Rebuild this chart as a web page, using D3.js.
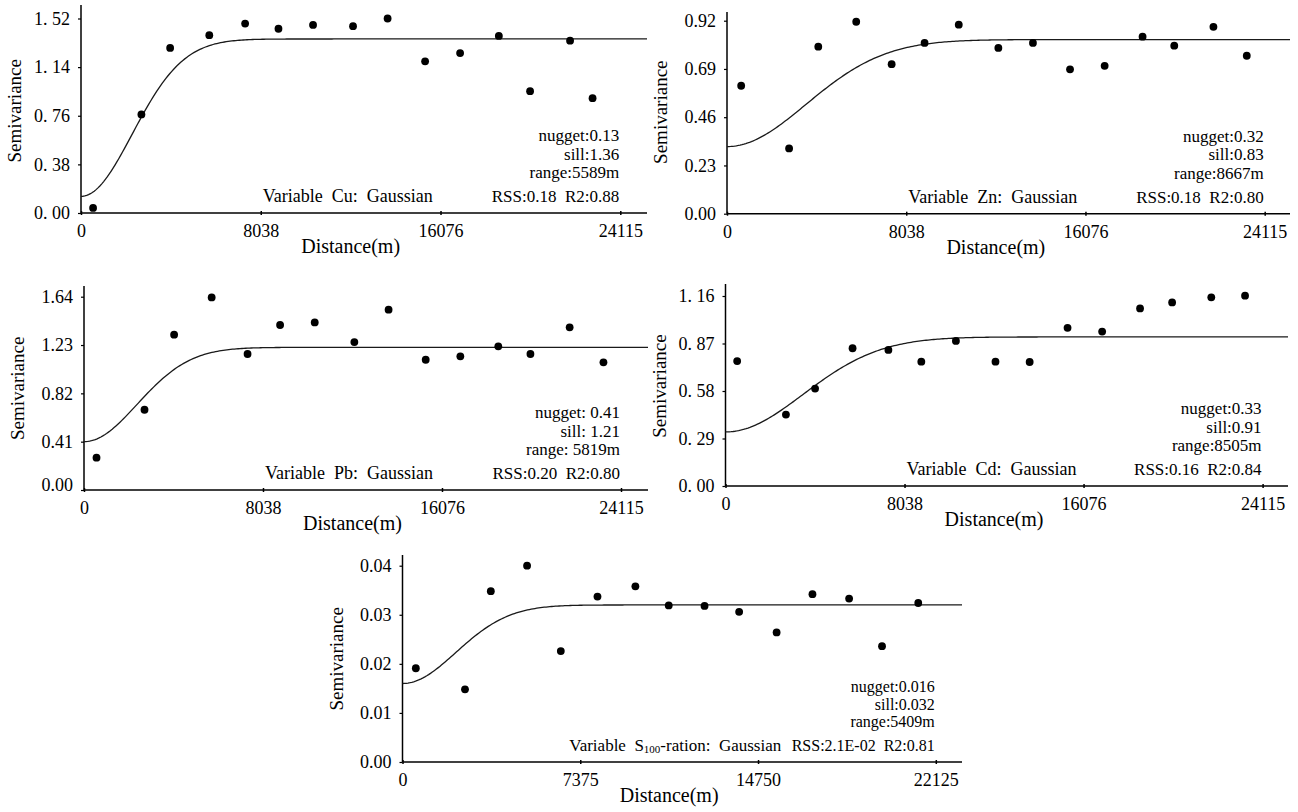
<!DOCTYPE html>
<html>
<head>
<meta charset="utf-8">
<script src="https://cdn.jsdelivr.net/npm/d3@7"></script>
<style>
  html, body { margin: 0; padding: 0; background: #fff; }
  svg { display: block; }
  svg text { font-family: "Liberation Serif", serif; fill: #000; }
</style>
</head>
<body>
<svg id="chart" width="1298" height="812" font-family="Liberation Serif, serif"></svg>
<script>
// distance ticks
const xTicksA = [0, 8038, 16076, 24115];
const xTicksB = [0, 7375, 14750, 22125];

// Cu
const cuDist = [540, 2701, 3986, 5737, 7339, 8830, 10376, 12164, 13710, 15387, 16952, 18684, 20081, 21869, 22875];
const cuGamma = [0.04, 0.77, 1.29, 1.39, 1.48, 1.44, 1.47, 1.46, 1.52, 1.185, 1.25, 1.384, 0.952, 1.347, 0.897];
const cuYTicks = [0, 0.38, 0.76, 1.14, 1.52];
const cuYLabels = ["0. 00", "0. 38", "0. 76", "1. 14", "1. 52"];

// Zn
const znDist = [636, 2785, 4094, 5795, 7384, 8861, 10394, 12170, 13721, 15385, 16937, 18638, 20059, 21816, 23311];
const znGamma = [0.61, 0.311, 0.796, 0.915, 0.713, 0.814, 0.901, 0.79, 0.814, 0.688, 0.705, 0.844, 0.801, 0.891, 0.753];
const znYTicks = [0, 0.23, 0.46, 0.69, 0.92];
const znYLabels = ["0.00", "0.23", "0.46", "0.69", "0.92"];

// Pb
const pbDist = [562, 2717, 4047, 5733, 7345, 8806, 10361, 12141, 13678, 15345, 16900, 18605, 20048, 21809, 23327];
const pbGamma = [0.274, 0.681, 1.318, 1.634, 1.154, 1.4, 1.422, 1.255, 1.53, 1.105, 1.134, 1.219, 1.154, 1.38, 1.083];
const pbYTicks = [0, 0.41, 0.82, 1.23, 1.64];
const pbYLabels = ["0.00", "0.41", "0.82", "1.23", "1.64"];

// Cd
const cdDist = [524, 2713, 4022, 5705, 7314, 8792, 10345, 12122, 13656, 15358, 16911, 18613, 20053, 21811, 23327];
const cdGamma = [0.763, 0.436, 0.595, 0.841, 0.831, 0.759, 0.886, 0.759, 0.757, 0.966, 0.943, 1.084, 1.121, 1.152, 1.162];
const cdYTicks = [0, 0.29, 0.58, 0.87, 1.16];
const cdYLabels = ["0. 00", "0. 29", "0. 58", "0. 87", "1. 16"];

// S100-ration
const sDist = [553, 2593, 3664, 5168, 6568, 8089, 9662, 11045, 12531, 13966, 15521, 17008, 18529, 19894, 21397];
const sGamma = [0.0191, 0.0148, 0.0348, 0.04, 0.0226, 0.0337, 0.0358, 0.0319, 0.0318, 0.0306, 0.0264, 0.0342, 0.0333, 0.0236, 0.0324];
const sYTicks = [0, 0.01, 0.02, 0.03, 0.04];
const sYLabels = ["0.00", "0.01", "0.02", "0.03", "0.04"];

// fitted Gaussian models: [nugget, sill, range]
const models = [[0.13, 1.36, 5589], [0.32, 0.83, 8667], [0.41, 1.21, 5819], [0.33, 0.91, 8505], [0.016, 0.032, 5409]];
const nuggetLabels = ["nugget:0.13", "nugget:0.32", "nugget: 0.41", "nugget:0.33", "nugget:0.016"];
const sillLabels = ["sill:1.36", "sill:0.83", "sill: 1.21", "sill:0.91", "sill:0.032"];
const rangeLabels = ["range:5589m", "range:8667m", "range: 5819m", "range:8505m", "range:5409m"];
const fitLabels = ["RSS:0.18  R2:0.88", "RSS:0.18  R2:0.80", "RSS:0.20  R2:0.80", "RSS:0.16  R2:0.84", "RSS:2.1E-02  R2:0.81"];
const varNames = ["Cu", "Zn", "Pb", "Cd", "S100-ration"];

const panels = [
  {dist: cuDist, gamma: cuGamma, xt: xTicksA, yt: cuYTicks, yl: cuYLabels},
  {dist: znDist, gamma: znGamma, xt: xTicksA, yt: znYTicks, yl: znYLabels},
  {dist: pbDist, gamma: pbGamma, xt: xTicksA, yt: pbYTicks, yl: pbYLabels},
  {dist: cdDist, gamma: cdGamma, xt: xTicksA, yt: cdYTicks, yl: cdYLabels},
  {dist: sDist, gamma: sGamma, xt: xTicksB, yt: sYTicks, yl: sYLabels}
];

// pixel layout of each panel
const layout = [
  {left: 81, lastX: 620.3, xEnd: 647, axisY: 213, topTickY: 18.5, top: 5, annSize: 17},
  {left: 727, lastX: 1264.7, xEnd: 1290, axisY: 213.7, topTickY: 20.7, top: 12, annSize: 17},
  {left: 84, lastX: 621, xEnd: 648, axisY: 490, topTickY: 296.7, top: 286, zeroShift: -5, annSize: 17},
  {left: 725.5, lastX: 1262.6, xEnd: 1288, axisY: 486, topTickY: 296, top: 284, annSize: 17},
  {left: 402.5, lastX: 935.8, xEnd: 962, axisY: 762, topTickY: 565.7, top: 555, annSize: 16}
];

const FONT = 'Liberation Serif, serif';
const svg = d3.select('#chart');

panels.forEach((p, i) => {
  const L = layout[i];
  const xMax = p.xt[p.xt.length - 1];
  const yMax = p.yt[p.yt.length - 1];

  const x = d3.scaleLinear().domain([0, xMax]).range([L.left, L.lastX]);
  const y = d3.scaleLinear().domain([0, yMax]).range([L.axisY, L.topTickY]);
  const g = svg.append('g').attr('font-family', FONT);

  // y axis
  const yAxis = g.append('g')
    .attr('transform', `translate(${L.left},0)`)
    .call(d3.axisLeft(y).tickValues(p.yt).tickFormat((d, k) => p.yl[k]).tickSize(3).tickPadding(8));
  yAxis.attr('font-family', FONT).attr('font-size', 18);
  yAxis.select('.domain').remove();
  yAxis.selectAll('text')
    .attr('fill', '#000')
    .attr('dy', (d, k) => (k === 0 && L.zeroShift) ? (L.zeroShift / 18 + 0.32) + 'em' : '0.32em');
  yAxis.selectAll('line').attr('stroke', '#000').attr('stroke-width', 1.2);

  // x axis
  const xAxis = g.append('g')
    .attr('transform', `translate(0,${L.axisY})`)
    .call(d3.axisBottom(x).tickValues(p.xt).tickFormat(d3.format('d')).tickSize(2).tickPadding(6));
  xAxis.attr('font-family', FONT).attr('font-size', 18);
  xAxis.select('.domain').remove();
  xAxis.selectAll('.tick line').attr('y1', -2).attr('y2', 2).attr('stroke', '#000').attr('stroke-width', 1.5);
  xAxis.selectAll('text')
    .attr('fill', '#000')
    .attr('dy', '0.9em');

  // axis lines
  g.append('line')
    .attr('x1', L.left).attr('x2', L.left)
    .attr('y1', L.top).attr('y2', L.axisY)
    .attr('stroke', '#000').attr('stroke-width', 1.5);
  g.append('line')
    .attr('x1', L.left).attr('x2', L.xEnd)
    .attr('y1', L.axisY).attr('y2', L.axisY)
    .attr('stroke', '#000').attr('stroke-width', 1.6);

  // axis titles
  g.append('text')
    .attr('transform', `translate(${L.left - 60},${(L.axisY + L.topTickY) / 2 - 5}) rotate(-90)`)
    .attr('text-anchor', 'middle')
    .attr('font-family', FONT)
    .attr('font-size', 19)
    .text('Semivariance');
  g.append('text')
    .attr('x', x(xMax / 2))
    .attr('y', L.axisY + 40)
    .attr('text-anchor', 'middle')
    .attr('font-family', FONT)
    .attr('font-size', 20)
    .text('Distance(m)');

  // model curve
  const [c0, sill, a] = models[i];
  const hMax = x.invert(L.xEnd);
  const hs = d3.range(0, hMax, hMax / 300).concat([hMax]);
  const gauss = h => c0 + (sill - c0) * (1 - Math.exp(-3 * h * h / (a * a)));
  g.append('path')
    .datum(hs)
    .attr('fill', 'none')
    .attr('stroke', '#1a1a1a')
    .attr('stroke-width', 1.3)
    .attr('d', d3.line().x(h => x(h)).y(h => y(gauss(h))));

  // points
  g.append('g')
    .selectAll('circle')
    .data(p.dist)
    .join('circle')
    .attr('cx', d => x(d))
    .attr('cy', (d, k) => y(p.gamma[k]))
    .attr('r', 3.9)
    .attr('fill', '#000');

  // annotation
  const ax = L.lastX - 1;
  const ann = g.append('g').attr('font-size', L.annSize).attr('text-anchor', 'end');
  const step = L.annSize + 1.5;
  ann.append('text').attr('x', ax).attr('y', L.axisY - 35 - 2 * step).text(nuggetLabels[i]);
  ann.append('text').attr('x', ax).attr('y', L.axisY - 35 - step).text(sillLabels[i]);
  ann.append('text').attr('x', ax).attr('y', L.axisY - 35).text(rangeLabels[i]);
  ann.append('text').attr('x', ax).attr('y', L.axisY - 11)
    .style('white-space', 'pre').text(fitLabels[i]);

  const vt = g.append('text')
    .attr('x', x(p.xt[1]) + (i === 4 ? -11 : 2))
    .attr('y', L.axisY - 11)
    .attr('font-size', i === 4 ? 17 : 18)
    .style('white-space', 'pre');
  if (varNames[i] === 'S100-ration') {
    vt.append('tspan').text('Variable  S');
    vt.append('tspan').attr('font-size', 11).attr('dy', 2).text('100');
    vt.append('tspan').attr('dy', -2).text('-ration:  Gaussian');
  } else {
    vt.text(`Variable  ${varNames[i]}:  Gaussian`);
  }
});
</script>
</body>
</html>
